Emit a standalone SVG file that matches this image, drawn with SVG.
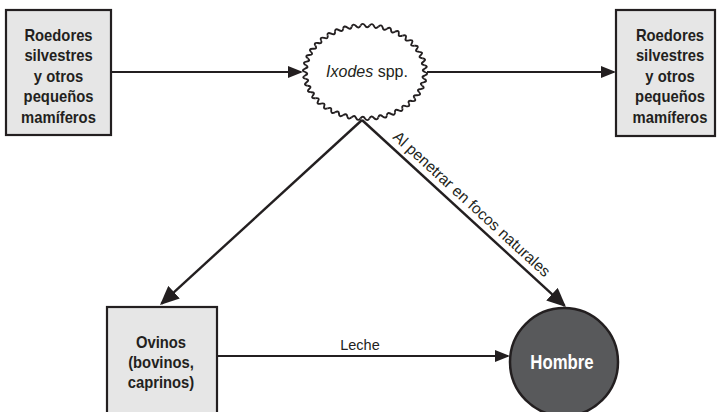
<svg xmlns="http://www.w3.org/2000/svg" xmlns:xlink="http://www.w3.org/1999/xlink" width="717" height="412" viewBox="0 0 717 412">
  <style>
    .box { fill: #e6e6e6; stroke: #231f20; stroke-width: 2.2; }
    .lbl { font-family: "Liberation Sans", Arial, sans-serif; font-weight: bold; font-size: 17px; fill: #231f20; text-anchor: middle; }
    .txt { font-family: "Liberation Sans", Arial, sans-serif; fill: #231f20; }
    .edge { stroke: #231f20; stroke-width: 2.2; fill: none; marker-end: url(#arrow); }
    .diag { stroke: #231f20; stroke-width: 2.4; fill: none; marker-end: url(#arrow-lg); }
    .wave { fill: none; stroke: #231f20; stroke-width: 1.9; vector-effect: non-scaling-stroke; stroke-linejoin: round; }
  </style>
  <defs>
    <marker id="arrow" markerUnits="userSpaceOnUse" markerWidth="15" markerHeight="12" refX="13" refY="6" orient="auto">
      <path d="M0,0 L15,6 L0,12 z" fill="#231f20"/>
    </marker>
    <marker id="arrow-lg" markerUnits="userSpaceOnUse" markerWidth="19" markerHeight="17" refX="17" refY="8.5" orient="auto">
      <path d="M0,0 L19,8.5 L0,17 z" fill="#231f20"/>
    </marker>
    <!-- one wave of the scalloped outline, on a circle of radius 60 -->
    <path id="wave" class="wave" d="M60,0 Q64.4,2.41 59.832,4.484 Q55.25,6.22 59.330,8.942"/>
    <g id="wave6">
      <use xlink:href="#wave"/>
      <use xlink:href="#wave" transform="rotate(8.5714)"/>
      <use xlink:href="#wave" transform="rotate(17.1429)"/>
      <use xlink:href="#wave" transform="rotate(25.7143)"/>
      <use xlink:href="#wave" transform="rotate(34.2857)"/>
      <use xlink:href="#wave" transform="rotate(42.8571)"/>
    </g>
  </defs>

  <rect width="717" height="412" fill="#ffffff"/>

  <g id="connectors">
    <line class="edge" x1="111" y1="72" x2="301" y2="72"/>
    <line class="edge" x1="427" y1="72" x2="614" y2="72"/>
    <line class="diag" x1="362" y1="120" x2="161.5" y2="303.6"/>
    <line class="diag" x1="362" y1="120" x2="564.5" y2="305.6"/>
    <line class="edge" x1="217" y1="356" x2="508" y2="356"/>
    <text class="txt" x="360" y="350" font-size="14.5" text-anchor="middle">Leche</text>
    <text class="txt" font-size="15.5" transform="translate(392,138) rotate(42.5)">Al penetrar en focos naturales</text>
  </g>

  <g id="roedores-izq">
    <rect class="box" x="6" y="10" width="105" height="125"/>
    <g transform="translate(58.5,0) scale(0.87,1)">
      <text class="lbl" x="0" y="41">Roedores</text>
      <text class="lbl" x="0" y="61.5">silvestres</text>
      <text class="lbl" x="0" y="82">y otros</text>
      <text class="lbl" x="0" y="102.5">pequeños</text>
      <text class="lbl" x="0" y="123">mamíferos</text>
    </g>
  </g>

  <g id="ixodes">
    <ellipse cx="365" cy="72" rx="60" ry="46.5" fill="#ffffff"/>
    <g transform="translate(365,72) scale(1,0.775)">
      <use xlink:href="#wave6"/>
      <use xlink:href="#wave6" transform="rotate(51.4286)"/>
      <use xlink:href="#wave6" transform="rotate(102.8571)"/>
      <use xlink:href="#wave6" transform="rotate(154.2857)"/>
      <use xlink:href="#wave6" transform="rotate(205.7143)"/>
      <use xlink:href="#wave6" transform="rotate(257.1429)"/>
      <use xlink:href="#wave6" transform="rotate(308.5714)"/>
    </g>
    <text class="txt" x="367" y="77" font-size="16" text-anchor="middle"><tspan font-style="italic">Ixodes</tspan> spp.</text>
  </g>

  <g id="roedores-der">
    <rect class="box" x="616" y="10" width="99" height="126"/>
    <g transform="translate(670,0) scale(0.87,1)">
      <text class="lbl" x="0" y="41">Roedores</text>
      <text class="lbl" x="0" y="61.5">silvestres</text>
      <text class="lbl" x="0" y="82">y otros</text>
      <text class="lbl" x="0" y="102.5">pequeños</text>
      <text class="lbl" x="0" y="123">mamíferos</text>
    </g>
  </g>

  <g id="ovinos">
    <rect class="box" x="107" y="307" width="110" height="115"/>
    <g transform="translate(161,0) scale(0.87,1)">
      <text class="lbl" x="0" y="348.5">Ovinos</text>
      <text class="lbl" x="0" y="368.5">(bovinos,</text>
      <text class="lbl" x="0" y="388.5">caprinos)</text>
    </g>
  </g>

  <g id="hombre">
    <circle cx="564" cy="362" r="54" fill="#58595b" stroke="#231f20" stroke-width="2.5"/>
    <g transform="translate(562,0) scale(0.86,1)">
      <text class="lbl" x="0" y="369.5" style="font-size:19.5px; fill:#ffffff">Hombre</text>
    </g>
  </g>
</svg>
